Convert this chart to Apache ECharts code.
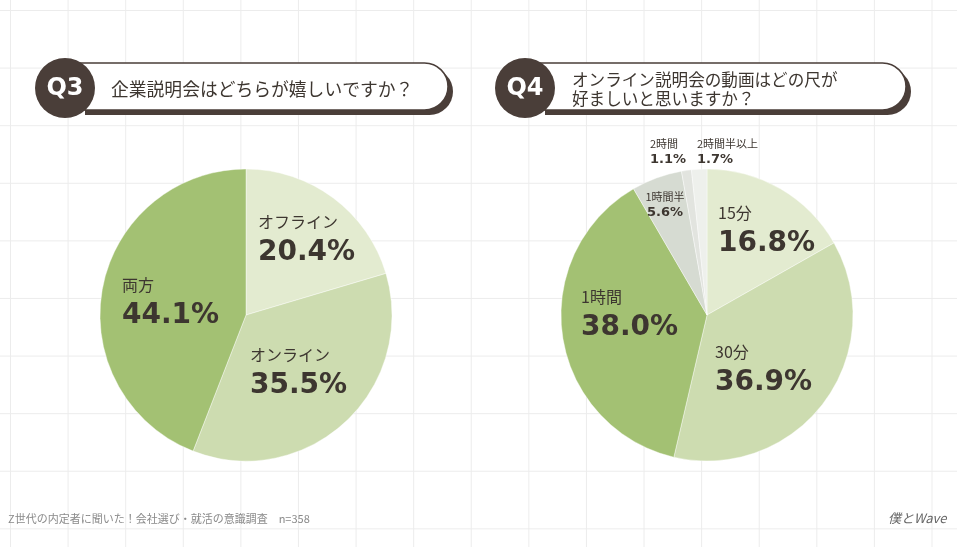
<!DOCTYPE html>
<html>
<head>
<meta charset="utf-8">
<script src="https://cdn.jsdelivr.net/npm/echarts@6/dist/echarts.min.js"></script>
<style>
  html, body { margin:0; padding:0; }
  body {
    background-color:#fff;
    background-image: linear-gradient(#ececec 1px, transparent 1px), linear-gradient(90deg, #ececec 1px, transparent 1px);
    background-size: 57.6px 57.6px;
    background-position: 10px 10px;
  }
  #main { width:957px; height:547px; }
</style>
</head>
<body>
<div id="main"></div>
<script>
// Q3 企業説明会はどちらが嬉しいですか？
var q3Names = ['オフライン', 'オンライン', '両方']
var q3Values = [20.4, 35.5, 44.1]
// Q4 オンライン説明会の動画はどの尺が好ましいと思いますか？
var q4Names = ['15分', '30分', '1時間', '1時間半', '2時間', '2時間半以上']
var q4Values = [16.8, 36.9, 38.0, 5.6, 1.1, 1.7]

var q3Colors = ['#e3ebd0', '#cddcb0', '#a3c173']
var q4Colors = ['#e3ebd0', '#cddcb0', '#a3c173', '#d6dbd2', '#e2e4df', '#eef0ec']

// label block positions (top-left), [x, y, align, small]
var q3LabelPos = [[258, 211, 'left'], [250, 344, 'left'], [122, 274, 'left']]
var q4LabelPos = [[718, 202, 'left'], [715, 341, 'left'], [581, 286, 'left'],
                  [665, 189, 'center', 1], [650, 136, 'left', 1], [697, 136, 'left', 1]]

var ink = '#3d3630'
var brown = '#4a3e39'

var chart = echarts.init(document.getElementById('main'))

function richStyle() {
    return {
        n: {fontFamily: 'Noto Sans CJK JP', fontSize: 16, color: ink, lineHeight: 22},
        p: {fontFamily: 'DejaVu Sans', fontWeight: 'bold', fontSize: 28, color: ink, lineHeight: 40},
        sn: {fontFamily: 'Noto Sans CJK JP', fontSize: 11, color: ink, lineHeight: 15},
        sp: {fontFamily: 'DejaVu Sans', fontWeight: 'bold', fontSize: 13, color: ink, lineHeight: 18}
    }
}

function makeData(names, values, colors, pos) {
    return names.map(function (n, i) {
        var small = pos[i][3]
        return {
            name: n,
            value: values[i],
            itemStyle: {color: colors[i]},
            label: {
                formatter: small ? '{sn|' + n + '}\n{sp|' + values[i].toFixed(1) + '%}'
                                 : '{n|' + n + '}\n{p|' + values[i].toFixed(1) + '%}'
            }
        }
    })
}

function makePie(center, names, values, colors, pos) {
    return {
        type: 'pie',
        center: center,
        radius: 146,
        startAngle: 90,
        clockwise: true,
        silent: true,
        avoidLabelOverlap: false,
        itemStyle: {borderColor: 'rgba(255,255,255,0.4)', borderWidth: 1},
        label: {show: true, position: 'inside', rich: richStyle()},
        labelLine: {show: false},
        labelLayout: function (p) {
            var L = pos[p.dataIndex]
            return {x: L[0], y: L[1], align: L[2], verticalAlign: 'top'}
        },
        data: makeData(names, values, colors, pos)
    }
}

function header(cx, rx, label, lines, textX, fs) {
    var els = [
        {type: 'rect', shape: {x: cx + 20, y: 68, width: rx - cx - 15, height: 47, r: [0, 24, 24, 0]},
         style: {fill: brown}},
        {type: 'rect', shape: {x: cx + 15, y: 63, width: rx - cx - 15, height: 47, r: [0, 24, 24, 0]},
         style: {fill: '#fff', stroke: brown, lineWidth: 1.5}},
        {type: 'circle', shape: {cx: cx, cy: 88, r: 30}, style: {fill: brown}},
        {type: 'text', x: cx, y: 89,
         style: {text: label, fill: '#fff', font: 'bold 24px "DejaVu Sans"', align: 'center', verticalAlign: 'middle'}}
    ]
    var y0 = lines.length === 1 ? 89 : 80
    lines.forEach(function (t, i) {
        els.push({type: 'text', x: textX, y: y0 + i * 19,
            style: {text: t, fill: ink, font: fs + 'px "Noto Sans CJK JP"', verticalAlign: 'middle'}})
    })
    return {type: 'group', silent: true, children: els}
}

chart.setOption({
    animation: false,
    backgroundColor: 'transparent',
    graphic: [
        header(65, 448, 'Q3', ['企業説明会はどちらが嬉しいですか？'], 111, 17.8),
        header(525, 906, 'Q4', ['オンライン説明会の動画はどの尺が', '好ましいと思いますか？'], 572, 16.6),
        {type: 'text', x: 8, y: 519, silent: true,
         style: {text: 'Z世代の内定者に聞いた！会社選び・就活の意識調査　n=358', fill: '#8a8a8a',
                 font: '11px "Noto Sans CJK JP"', verticalAlign: 'middle'}},
        {type: 'text', x: 888, y: 518, silent: true,
         style: {text: '僕とWave', fill: '#666', font: 'italic 13px "Noto Sans CJK JP"', verticalAlign: 'middle'}}
    ],
    series: [
        makePie([246, 315], q3Names, q3Values, q3Colors, q3LabelPos),
        makePie([707, 315], q4Names, q4Values, q4Colors, q4LabelPos)
    ]
})
</script>
</body>
</html>
